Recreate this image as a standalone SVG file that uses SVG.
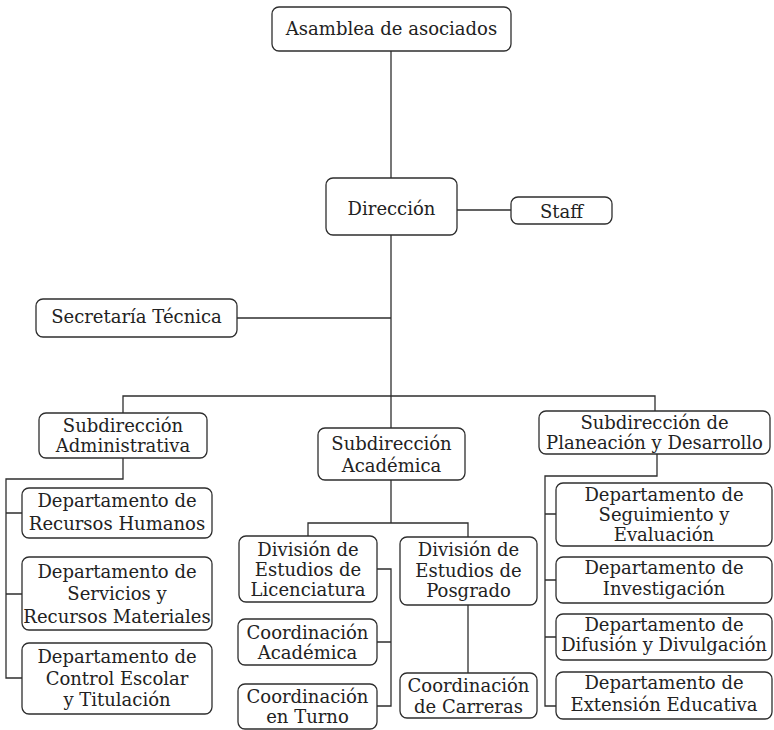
<svg xmlns="http://www.w3.org/2000/svg" width="774" height="730" viewBox="0 0 774 730">
<style>
.box{fill:#fff;stroke:#2e2e2e;stroke-width:1.3}
.t{font-family:"DejaVu Serif","Liberation Serif",serif;font-size:18px;fill:#222;text-anchor:middle}
.c{fill:none;stroke:#2e2e2e;stroke-width:1.3}
</style>
<rect width="774" height="730" fill="#fff"/>
<g id="connectors" class="c">
<path d="M391 51V178"/>
<path d="M457 210H511"/>
<path d="M391 235V428"/>
<path d="M237 318H391"/>
<path d="M123 413V396H655V411"/>
<path d="M123 458V479H6V678H22M6 513H22M6 594H22"/>
<path d="M391 480V523M308 536V523H468V537"/>
<path d="M377 569H391V706H377M391 642H377"/>
<path d="M468 605V673"/>
<path d="M657 454V476H545V706H556M545 514H556M545 580H556M545 637H556"/>
</g>
<g id="asamblea"><rect class="box" x="272" y="7" width="239" height="44" rx="7"/><text class="t" x="391.5" y="35">Asamblea de asociados</text></g>
<g id="direccion"><rect class="box" x="326" y="178" width="131" height="57" rx="7"/><text class="t" x="391.5" y="215">Dirección</text></g>
<g id="staff"><rect class="box" x="511" y="197" width="101" height="27" rx="7"/><text class="t" x="561.5" y="218">Staff</text></g>
<g id="secretaria"><rect class="box" x="36" y="299" width="201" height="38" rx="7"/><text class="t" x="136.5" y="323">Secretaría Técnica</text></g>
<g id="sub-admin"><rect class="box" x="39" y="413" width="168" height="45" rx="7"/><text class="t" x="123" y="432">Subdirección</text><text class="t" x="123" y="452">Administrativa</text></g>
<g id="sub-academica"><rect class="box" x="318" y="428" width="147" height="52" rx="7"/><text class="t" x="391.5" y="450">Subdirección</text><text class="t" x="391.5" y="472">Académica</text></g>
<g id="sub-planeacion"><rect class="box" x="539" y="411" width="231" height="43" rx="7"/><text class="t" x="654.5" y="429">Subdirección de</text><text class="t" x="654.5" y="449">Planeación y Desarrollo</text></g>
<g id="dep-rh"><rect class="box" x="22" y="488" width="190" height="50" rx="7"/><text class="t" x="117" y="507">Departamento de</text><text class="t" x="117" y="530">Recursos Humanos</text></g>
<g id="dep-servicios"><rect class="box" x="22" y="557" width="190" height="73" rx="7"/><text class="t" x="117" y="578">Departamento de</text><text class="t" x="117" y="600">Servicios y</text><text class="t" x="117" y="623">Recursos Materiales</text></g>
<g id="dep-control"><rect class="box" x="22" y="643" width="190" height="71" rx="7"/><text class="t" x="117" y="663">Departamento de</text><text class="t" x="117" y="685">Control Escolar</text><text class="t" x="117" y="706">y Titulación</text></g>
<g id="div-licenciatura"><rect class="box" x="239" y="536" width="138" height="66" rx="7"/><text class="t" x="308" y="556">División de</text><text class="t" x="308" y="576">Estudios de</text><text class="t" x="308" y="596">Licenciatura</text></g>
<g id="div-posgrado"><rect class="box" x="400" y="537" width="137" height="68" rx="7"/><text class="t" x="468.5" y="556">División de</text><text class="t" x="468.5" y="577">Estudios de</text><text class="t" x="468.5" y="597">Posgrado</text></g>
<g id="coord-academica"><rect class="box" x="238" y="619" width="139" height="46" rx="7"/><text class="t" x="307.5" y="639">Coordinación</text><text class="t" x="307.5" y="659">Académica</text></g>
<g id="coord-turno"><rect class="box" x="238" y="684" width="139" height="45" rx="7"/><text class="t" x="307.5" y="703">Coordinación</text><text class="t" x="307.5" y="723">en Turno</text></g>
<g id="coord-carreras"><rect class="box" x="400" y="673" width="137" height="45" rx="7"/><text class="t" x="468.5" y="692">Coordinación</text><text class="t" x="468.5" y="713">de Carreras</text></g>
<g id="dep-seguimiento"><rect class="box" x="556" y="483" width="216" height="63" rx="7"/><text class="t" x="664" y="501">Departamento de</text><text class="t" x="664" y="521">Seguimiento y</text><text class="t" x="664" y="541">Evaluación</text></g>
<g id="dep-investigacion"><rect class="box" x="556" y="557" width="216" height="46" rx="7"/><text class="t" x="664" y="574">Departamento de</text><text class="t" x="664" y="595">Investigación</text></g>
<g id="dep-difusion"><rect class="box" x="556" y="614" width="216" height="46" rx="7"/><text class="t" x="664" y="631">Departamento de</text><text class="t" x="664" y="651">Difusión y Divulgación</text></g>
<g id="dep-extension"><rect class="box" x="556" y="672" width="216" height="47" rx="7"/><text class="t" x="664" y="689">Departamento de</text><text class="t" x="664" y="711">Extensión Educativa</text></g>
</svg>
